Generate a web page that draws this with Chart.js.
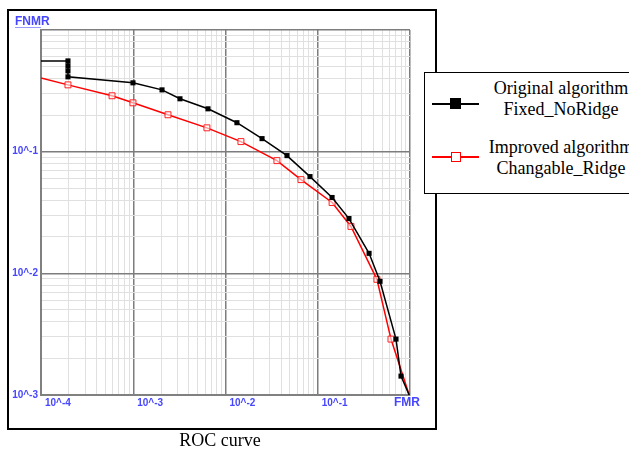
<!DOCTYPE html>
<html>
<head>
<meta charset="utf-8">
<script src="https://cdn.jsdelivr.net/npm/chart.js@4"></script>
<style>
  html, body { margin: 0; padding: 0; background: #fff; }
  #wrap { position: relative; width: 629px; height: 450px; overflow: hidden; }
  #frame { position: absolute; left: 7px; top: 9px; width: 430px; height: 421px; border: 2px solid #000; box-sizing: border-box; }
  #c { position: absolute; left: 0; top: 0; }
  #legend { position: absolute; left: 424px; top: 72px; width: 240px; height: 122px; border: 1px solid #000; background: #fff; box-sizing: border-box; font-family: "Liberation Serif", "Times New Roman", serif; font-size: 18px; color: #000; }
  .item { position: absolute; left: 0; width: 100%; height: 44px; }
  .sym { position: absolute; left: 7px; width: 47px; height: 0; }
  .sym .ln { position: absolute; left: 0; top: -1px; width: 47px; height: 2px; }
  .sym .mk { position: absolute; box-sizing: border-box; }
  .txt { position: absolute; left: 56px; width: 160px; text-align: center; line-height: 21px; white-space: nowrap; }
  #caption { position: absolute; left: 120px; width: 200px; top: 430px; text-align: center; font-family: "Liberation Serif", "Times New Roman", serif; font-size: 18px; color: #000; }
</style>
</head>
<body>
<div id="wrap">
  <div id="frame"></div>
  <canvas id="c" width="629" height="450"></canvas>
  <div id="legend">
    <div class="item" style="top:6px">
      <div class="sym" style="top:25px"><div class="ln" style="background:#000"></div><div class="mk" style="left:18px;top:-6px;width:11px;height:11px;background:#000"></div></div>
      <div class="txt" style="top:-1px">Original algorithm<br>Fixed_NoRidge</div>
    </div>
    <div class="item" style="top:64px">
      <div class="sym" style="top:20px"><div class="ln" style="background:#f00"></div><div class="mk" style="left:19px;top:-5px;width:10px;height:10px;border:1px solid #f00;background:#fff"></div></div>
      <div class="txt" style="top:0px">Improved algorithm<br>Changable_Ridge</div>
    </div>
  </div>
  <div id="caption">ROC curve</div>
</div>
<script>
// ---- data ----
const originalFMR  = [1e-4, 1.96e-4, 1.96e-4, 1.96e-4, 1.96e-4, 9.93e-4, 2.05e-3, 3.21e-3, 6.46e-3, 0.0133, 0.0249, 0.0464, 0.0824, 0.143, 0.218, 0.360, 0.473, 0.705, 0.799, 0.98];
const originalFNMR = [0.557, 0.557, 0.507, 0.461, 0.412, 0.368, 0.322, 0.272, 0.225, 0.173, 0.128, 0.0928, 0.0624, 0.042, 0.0282, 0.0146, 0.0086, 0.00288, 0.00143, 0.001];
const improvedFMR  = [1e-4, 1.96e-4, 5.89e-4, 9.93e-4, 2.38e-3, 6.29e-3, 0.0147, 0.0361, 0.0658, 0.143, 0.229, 0.438, 0.622, 0.98];
const improvedFNMR = [0.404, 0.354, 0.288, 0.252, 0.201, 0.157, 0.121, 0.0844, 0.0589, 0.0382, 0.0243, 0.00893, 0.00288, 0.001];

const xTickValues = [1e-4, 1e-3, 1e-2, 1e-1, 1];
const xTickLabels = ['10^-4', '10^-3', '10^-2', '10^-1', 'FMR'];
const yTickValues = [1e-3, 1e-2, 1e-1, 1];
const yTickLabels = ['10^-3', '10^-2', '10^-1', 'FNMR'];
const minorMultipliers = [2, 3, 4, 5, 6, 7, 8, 9];

function pairs(xs, ys) { return xs.map((x, i) => ({ x: x, y: ys[i] })); }
function gridTicks(decades) {
  const t = [];
  decades.forEach((d, i) => {
    t.push({ value: d, major: true });
    if (i < decades.length - 1) minorMultipliers.forEach(m => t.push({ value: d * m, major: false }));
  });
  return t;
}
function isDecade(v) { const l = Math.log10(v); return Math.abs(l - Math.round(l)) < 1e-6; }
function endsHidden(r) { return (ctx) => (ctx.dataIndex === 0 || ctx.dataIndex === ctx.dataset.data.length - 1) ? 0 : r; }

const labelFont = 'bold 10px "Liberation Sans", Arial, sans-serif';
const nameFont = 'bold 12px "Liberation Sans", Arial, sans-serif';
const labelColor = '#4646ff';

const tickLabelPlugin = {
  id: 'tickLabels',
  afterDraw(chart) {
    const ctx = chart.ctx, xs = chart.scales.x, ys = chart.scales.y, area = chart.chartArea;
    ctx.save();
    ctx.fillStyle = labelColor;
    ctx.textBaseline = 'middle';
    xTickValues.forEach((v, i) => {
      const px = xs.getPixelForValue(v);
      if (i === xTickValues.length - 1) { ctx.font = nameFont; ctx.textAlign = 'center'; ctx.fillText(xTickLabels[i], px - 3, area.bottom + 8); }
      else { ctx.font = labelFont; ctx.textAlign = 'left'; ctx.fillText(xTickLabels[i], px + 4, area.bottom + 8); }
    });
    yTickValues.forEach((v, i) => {
      const py = ys.getPixelForValue(v);
      if (i === yTickValues.length - 1) {
        ctx.font = nameFont;
        ctx.textAlign = 'left';
        ctx.fillText(yTickLabels[i], 15, py - 8);
        ctx.strokeStyle = '#9a9aff'; ctx.lineWidth = 1;
        ctx.beginPath(); ctx.moveTo(15, py - 2.5); ctx.lineTo(area.left, py - 2.5); ctx.stroke();
      } else {
        ctx.font = labelFont;
        ctx.textAlign = 'right'; ctx.fillText(yTickLabels[i], area.left - 3, py);
      }
    });
    ctx.restore();
  }
};

const gridColor = (c) => (c.tick && isDecade(c.tick.value)) ? '#7d7d7d' : '#e0e0e0';
const gridWidth = (c) => (c.tick && isDecade(c.tick.value)) ? 1.5 : 1;

new Chart(document.getElementById('c'), {
  type: 'line',
  data: {
    datasets: [
      {
        label: 'Original algorithm Fixed_NoRidge',
        data: pairs(originalFMR, originalFNMR),
        borderColor: '#000', backgroundColor: '#000', borderWidth: 1.5,
        pointStyle: 'rect', pointRadius: endsHidden(3.6), pointBorderWidth: 0, pointBackgroundColor: '#000',
        tension: 0, fill: false
      },
      {
        label: 'Improved algorithm Changable_Ridge',
        data: pairs(improvedFMR, improvedFNMR),
        borderColor: '#ff0000', backgroundColor: '#fff', borderWidth: 1.5,
        pointStyle: 'rect', pointRadius: endsHidden(4.2), pointBorderWidth: 1, pointBorderColor: '#ff2020', pointBackgroundColor: 'rgba(255,255,255,0.6)',
        tension: 0, fill: false
      }
    ]
  },
  options: {
    responsive: false,
    animation: false,
    layout: { padding: { top: 30, left: 11, right: 219, bottom: 35 } },
    plugins: { legend: { display: false }, tooltip: { enabled: false }, title: { display: false } },
    scales: {
      x: {
        type: 'logarithmic', min: 1e-4, max: 1,
        afterBuildTicks: (s) => { s.ticks = gridTicks(xTickValues); },
        afterFit: (s) => { s.height = 20; },
        ticks: { display: false },
        grid: { color: gridColor, lineWidth: gridWidth, drawTicks: false },
        border: { color: '#808080', width: 2 }
      },
      y: {
        type: 'logarithmic', min: 1e-3, max: 1,
        afterBuildTicks: (s) => { s.ticks = gridTicks(yTickValues); },
        afterFit: (s) => { s.width = 30; },
        ticks: { display: false },
        grid: { color: gridColor, lineWidth: gridWidth, drawTicks: false },
        border: { color: '#808080', width: 2 }
      }
    }
  },
  plugins: [tickLabelPlugin]
});
</script>
</body>
</html>
